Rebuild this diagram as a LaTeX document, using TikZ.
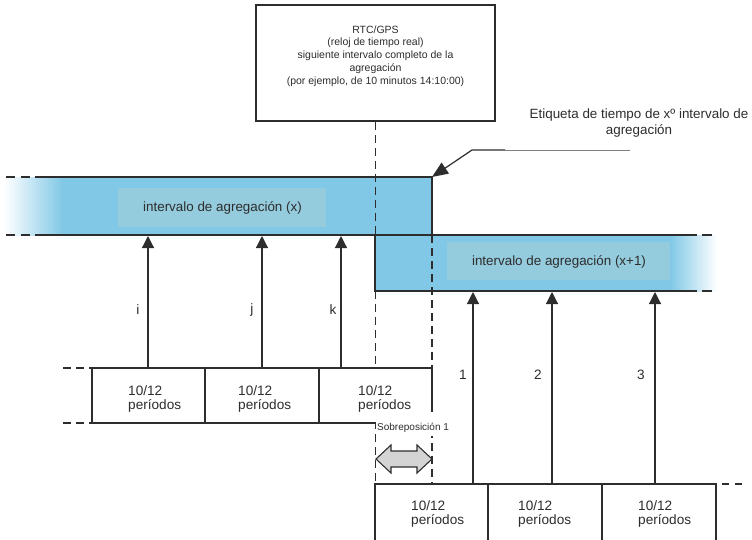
\documentclass[tikz,border=0pt]{standalone}
\usepackage{fontspec}
\setmainfont{Liberation Sans}
\usetikzlibrary{arrows.meta}
\definecolor{band}{RGB}{128,200,230}
\definecolor{innerc}{RGB}{148,203,221}
\definecolor{ink}{RGB}{45,45,45}
\definecolor{arrfill}{RGB}{212,212,212}
\begin{document}
\begin{tikzpicture}[x=1pt,y=-1pt,
  ln/.style={draw=ink,line width=1.4pt},
  dsh/.style={draw=ink,line width=1.4pt,dash pattern=on 8pt off 5pt},
  edash/.style={draw=ink,line width=1.4pt,dash pattern=on 9pt off 6pt},
  pbox/.style={draw=ink,fill=white,line width=1.3pt,inner sep=0pt,minimum height=55pt},
  rbox/.style={draw=ink,fill=white,line width=1.3pt,inner sep=0pt,minimum height=61pt},
  up/.style={draw=ink,line width=1.2pt,-{Triangle[width=12pt,length=12pt]}},
  big/.style={text=ink,font=\fontsize{13.6}{14}\selectfont,inner sep=0pt},
  bandtxt/.style={text=ink,font=\fontsize{13.4}{16}\selectfont,inner sep=0pt},
  small/.style={text=ink,font=\fontsize{10.5}{12.75}\selectfont,inner sep=0pt,align=center}
]
\useasboundingbox (0,0) rectangle (752,539);
\clip (0,0) rectangle (752,539);

% upper band (x)
\shade[left color=white,right color=band] (4,177) rectangle (63,235);
\fill[band] (62.5,177) rectangle (432,235);
\fill[innerc] (118,188) rectangle (326,227);
\node[bandtxt] (bx) at (222.5,208) {intervalo de agregación (x)};

% lower band (x+1)
\fill[band] (375,235) rectangle (670.5,291);
\shade[left color=band,right color=white] (670,235) rectangle (717,291);
\fill[innerc] (447,242) rectangle (670,280);
\node[bandtxt] (bx1) at (559,262) {intervalo de agregación (x+1)};

% top box
\node[draw=ink,line width=1.4pt,fill=white,minimum width=239pt,minimum height=116pt,inner sep=0pt] (rtc) at (375.5,63) {};
\node[small] (rtct) at (375.5,56) {RTC/GPS\\(reloj de tiempo real)\\siguiente intervalo completo de la\\agregación\\(por ejemplo, de 10 minutos 14:10:00)};

\coordinate (c375) at (375,484);
\coordinate (c432) at (432,484);
\coordinate (c432t) at (432,235);

% dashed verticals
\draw[dsh] (rtc.south) -- (rtc.south |- c375);
\draw[dsh] (c432t) -- (c432);

% band borders
\draw[ln] (35,177) -- (432,177) -- (c432t);
\draw[ln] (35,235) -- (697,235);
\draw[edash] (6,177) -- (35,177);
\draw[edash] (6,235) -- (35,235);
\draw[ln] (375,235) -- (375,291) -- (697,291);
\draw[ln] (702,235) -- (712,235);
\draw[ln] (702,291) -- (712,291);

% lower-left boxes
\node[pbox,minimum width=113pt] (l1) at (148.5,395.5) {};
\node[pbox,minimum width=114pt] (l2) at (262,395.5) {};
\node[pbox,minimum width=113pt] (l3) at (375.5,395.5) {};
\draw[ln,dash pattern=on 8pt off 5pt] (63,368) -- (91,368);
\draw[ln,dash pattern=on 8pt off 5pt] (63,423) -- (91,423);
\node[big,anchor=west,align=left] (t1) at (128,399) {10/12\\períodos};
\node[big,anchor=west,align=left] (t2) at (238,399) {10/12\\períodos};
\node[big,anchor=west,align=left] (t3) at (358,399) {10/12\\períodos};

% lower-right boxes
\node[rbox,minimum width=113pt] (r1) at (431.5,514.5) {};
\node[rbox,minimum width=114pt] (r2) at (545,514.5) {};
\node[rbox,minimum width=114pt] (r3) at (659,514.5) {};
\draw[ln,dash pattern=on 7pt off 6pt] (722,484) -- (745,484);
\node[big,anchor=west,align=left] (u1) at (411,514) {10/12\\períodos};
\node[big,anchor=west,align=left] (u2) at (518,514) {10/12\\períodos};
\node[big,anchor=west,align=left] (u3) at (638,514) {10/12\\períodos};

% arrows i j k
\coordinate (ai) at (148,368); \coordinate (aj) at (262,368); \coordinate (ak) at (341,368);
\draw[up] (ai) -- (148,236);
\draw[up] (aj) -- (262,236);
\draw[up] (ak) -- (341,236);
\node[big] (li) at (138,310) {i};
\node[big] (lj) at (252,310) {j};
\node[big] (lk) at (333,310) {k};

% arrows 1 2 3
\coordinate (a1) at (473,484); \coordinate (a2) at (552,484); \coordinate (a3) at (655,484);
\draw[up] (a1) -- (473,292);
\draw[up] (a2) -- (552,292);
\draw[up] (a3) -- (655,292);
\node[big] (n1) at (463,375) {1};
\node[big] (n2) at (538,375) {2};
\node[big] (n3) at (641,375) {3};

% overlap label and double arrow
\node[fill=white,anchor=north west,inner xsep=1pt,inner ysep=0pt,text height=18pt,text depth=6pt,text=ink,font=\fontsize{10}{12}\selectfont] (sob) at (376,412) {Sobreposición 1};
\draw[ink,line width=1.1pt,fill=arrfill] (376,459) -- (391,445) -- (391,451) -- (417,451) -- (417,445) -- (432,459) -- (417,473) -- (417,467) -- (391,467) -- (391,473) -- cycle;

% time label
\node[bandtxt,align=center] (etq) at (639,123.5) {Etiqueta de tiempo de xº intervalo de\\agregación};
\coordinate (le) at (630,150);
\coordinate (lm) at (505,150);
\coordinate (lk2) at (472,150);
\coordinate (corner) at (432,177);
\draw[draw=gray,line width=1pt] (le) -- (lm);
\draw[draw=ink,line width=1.2pt,-{Triangle[width=13pt,length=16pt]}] (lm) -- (lk2) -- (corner);
\end{tikzpicture}
\end{document}
